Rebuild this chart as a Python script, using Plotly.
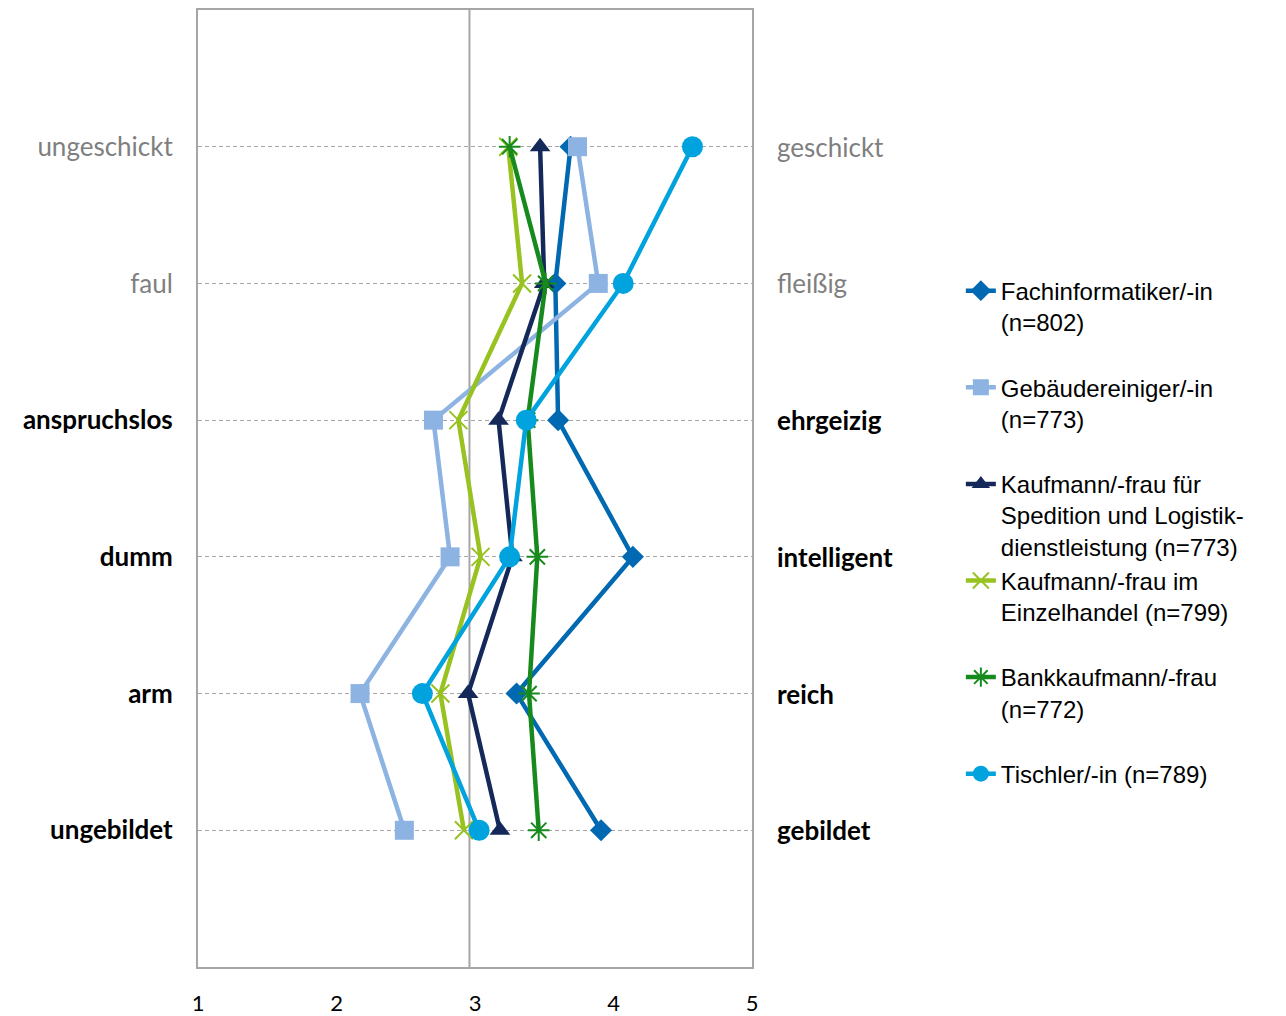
import plotly.graph_objects as go

# Semantic differential: negative pole (left), positive pole (right)
left_labels = ["ungeschickt", "faul", "anspruchslos", "dumm", "arm", "ungebildet"]
right_labels = ["geschickt", "fleißig", "ehrgeizig", "intelligent", "reich", "gebildet"]
label_bold = [False, False, True, True, True, True]

series_names = [
    "Fachinformatiker/-in<br>(n=802)<br> ",
    "Gebäudereiniger/-in<br>(n=773)<br> ",
    "Kaufmann/-frau für<br>Spedition und Logistik-<br>dienstleistung (n=773)",
    "Kaufmann/-frau im<br>Einzelhandel (n=799)<br> ",
    "Bankkaufmann/-frau<br>(n=772)<br> ",
    "Tischler/-in (n=789)<br> <br> ",
]

fachinformatiker = [3.69, 3.58, 3.60, 4.14, 3.30, 3.91]
gebaeudereiniger = [3.74, 3.89, 2.70, 2.82, 2.17, 2.49]
spedition = [3.47, 3.50, 3.17, 3.27, 2.95, 3.18]
einzelhandel = [3.24, 3.34, 2.88, 3.04, 2.75, 2.92]
bankkaufmann = [3.25, 3.51, 3.38, 3.45, 3.39, 3.46]
tischler = [4.57, 4.07, 3.37, 3.25, 2.62, 3.03]

x_ticks = [1, 2, 3, 4, 5]
center_line = 2.96

series_values = [fachinformatiker, gebaeudereiniger, spedition, einzelhandel, bankkaufmann, tischler]
colors = ["#0069B1", "#8DB3E2", "#14295A", "#97C21F", "#178A1E", "#00A3DD"]
symbols = ["diamond", "square", "triangle-up", "x-thin-open", "asterisk-open", "circle"]
sizes = [17, 19, 18, 18, 18, 21]

fig = go.Figure()
for name, vals, col, sym, sz in zip(series_names, series_values, colors, symbols, sizes):
    marker = dict(symbol=sym, size=sz, color=col)
    if sym.endswith("-open"):
        marker["line"] = dict(width=2, color=col)
    fig.add_trace(go.Scatter(
        x=vals, y=left_labels, mode="lines+markers", name=name,
        line=dict(color=col, width=4.5), marker=marker,
    ))

gray = "#7f7f7f"
def styled(t, bold):
    return f"<b>{t}</b>" if bold else f"<span style='color:{gray}'>{t}</span>"

fig.add_shape(type="line", xref="x", yref="paper", x0=center_line, x1=center_line, y0=0, y1=1,
              line=dict(color="#a6a6a6", width=2), layer="below")

for lab_l, lab_r, b in zip(left_labels, right_labels, label_bold):
    fig.add_annotation(x=1.0415, xref="paper", y=lab_l, yref="y", text=styled(lab_r, b),
                       showarrow=False, xanchor="left", yanchor="middle",
                       font=dict(family="Lato", size=26, color="black"))

fig.update_layout(
    width=1278, height=1008,
    margin=dict(l=190, r=534, t=0, b=46),
    paper_bgcolor="white", plot_bgcolor="white",
    showlegend=True,
    legend=dict(x=1.377, y=0.7298, xanchor="left", yanchor="top", valign="top",
                font=dict(family="Liberation Sans, Arial", size=24, color="black"),
                bgcolor="rgba(0,0,0,0)", tracegroupgap=0),
    xaxis=dict(range=[1, 5], tickvals=x_ticks, ticktext=[str(v) for v in x_ticks],
               showgrid=False, zeroline=False, showline=True, mirror=True,
               linecolor="#a6a6a6", linewidth=2, ticks="",
               tickfont=dict(family="Lato", size=22, color="black"), ticklabelstandoff=16),
    yaxis=dict(type="category", categoryorder="array", categoryarray=left_labels,
               range=[len(left_labels), -1],
               tickvals=left_labels,
               ticktext=[styled(t, b) for t, b in zip(left_labels, label_bold)],
               showgrid=True, gridcolor="#a6a6a6", gridwidth=1, griddash="4px,3px",
               showline=True, mirror=True, linecolor="#a6a6a6", linewidth=2, ticks="",
               zeroline=False,
               tickfont=dict(family="Lato", size=26, color="black"), ticklabelstandoff=18),
)

fig.write_html("out.html")
